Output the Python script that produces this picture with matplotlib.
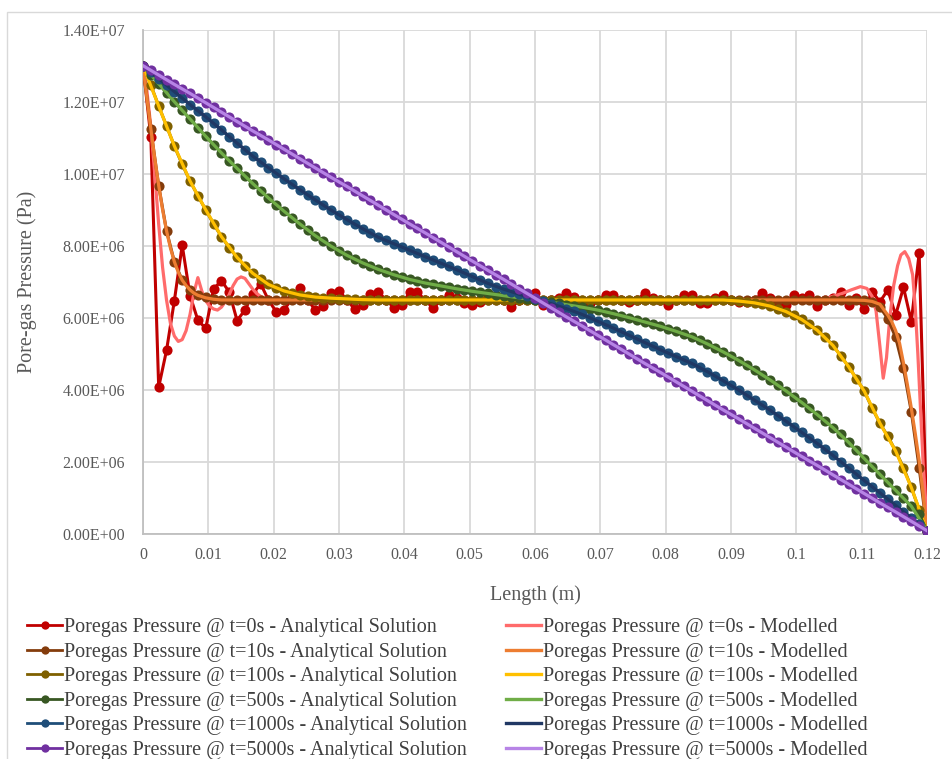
import numpy as np
import matplotlib.pyplot as plt
from matplotlib.patches import Rectangle
from matplotlib.lines import Line2D

plt.rcParams['font.family'] = ['Liberation Serif', 'DejaVu Serif']

# node positions along the sample (m), analytical solution sampled every 1.2 mm
x_nodes = np.linspace(0, 0.12, 101)
# modelled profiles exported every 2.4 mm
x_model = np.linspace(0, 0.12, 51)

# pore-gas pressure, analytical solution (MPa)
p0_exact = [13.0, 11.02, 4.08, 5.10, 6.48, 8.02, 6.62, 5.94, 5.71, 6.80,
            7.04, 6.72, 5.93, 6.22, 6.66, 6.95, 6.50, 6.17, 6.22, 6.55,
            6.82, 6.50, 6.22, 6.33, 6.69, 6.76, 6.50, 6.25, 6.36, 6.66,
            6.73, 6.50, 6.29, 6.36, 6.71, 6.71, 6.50, 6.27, 6.50, 6.64,
            6.55, 6.41, 6.36, 6.45, 6.55, 6.60, 6.50, 6.30, 6.50, 6.55,
            6.69, 6.36, 6.50, 6.55, 6.70, 6.59, 6.45, 6.42, 6.50, 6.64,
            6.64, 6.50, 6.45, 6.50, 6.69, 6.55, 6.50, 6.36, 6.50, 6.64,
            6.64, 6.41, 6.41, 6.55, 6.64, 6.50, 6.45, 6.45, 6.50, 6.69,
            6.55, 6.45, 6.36, 6.64, 6.55, 6.64, 6.33, 6.50, 6.55, 6.73,
            6.36, 6.55, 6.25, 6.73, 6.45, 6.78, 6.08, 6.85, 5.90, 7.80,
            0.10]
p10_exact = [13.0, 11.23, 9.67, 8.42, 7.56, 7.05, 6.78, 6.64, 6.57, 6.53,
             6.51, 6.50, 6.50, 6.50, 6.50, 6.50, 6.50, 6.50, 6.50, 6.50,
             6.50, 6.50, 6.50, 6.50, 6.50, 6.50, 6.50, 6.50, 6.50, 6.50,
             6.50, 6.50, 6.50, 6.50, 6.50, 6.50, 6.50, 6.50, 6.50, 6.50,
             6.50, 6.50, 6.50, 6.50, 6.50, 6.50, 6.50, 6.50, 6.50, 6.50,
             6.50, 6.50, 6.50, 6.50, 6.50, 6.50, 6.50, 6.50, 6.50, 6.50,
             6.50, 6.50, 6.50, 6.50, 6.50, 6.50, 6.50, 6.50, 6.50, 6.50,
             6.50, 6.50, 6.50, 6.50, 6.50, 6.50, 6.50, 6.50, 6.50, 6.50,
             6.50, 6.50, 6.50, 6.50, 6.50, 6.50, 6.50, 6.50, 6.50, 6.50,
             6.50, 6.50, 6.49, 6.45, 6.30, 5.98, 5.46, 4.60, 3.40, 1.85,
             0.10]
p100_exact = [13.0, 12.46, 11.88, 11.33, 10.77, 10.26, 9.80, 9.39, 9.00, 8.61,
              8.26, 7.95, 7.68, 7.44, 7.24, 7.07, 6.93, 6.83, 6.75, 6.69,
              6.64, 6.61, 6.58, 6.56, 6.55, 6.54, 6.53, 6.52, 6.51, 6.51,
              6.50, 6.50, 6.50, 6.50, 6.50, 6.50, 6.50, 6.50, 6.50, 6.50,
              6.50, 6.50, 6.50, 6.50, 6.50, 6.50, 6.50, 6.50, 6.50, 6.50,
              6.50, 6.50, 6.50, 6.50, 6.50, 6.50, 6.50, 6.50, 6.50, 6.50,
              6.50, 6.50, 6.50, 6.50, 6.50, 6.50, 6.50, 6.50, 6.50, 6.50,
              6.50, 6.50, 6.50, 6.50, 6.50, 6.49, 6.47, 6.45, 6.42, 6.38,
              6.33, 6.26, 6.18, 6.08, 5.96, 5.83, 5.66, 5.48, 5.24, 4.95,
              4.65, 4.32, 3.97, 3.50, 3.08, 2.72, 2.31, 1.85, 1.30, 0.68,
              0.10]
p500_exact = [13.00, 12.75, 12.50, 12.25, 12.00, 11.76, 11.52, 11.28, 11.04, 10.81,
              10.58, 10.36, 10.15, 9.94, 9.73, 9.53, 9.33, 9.14, 8.96, 8.78,
              8.61, 8.44, 8.28, 8.13, 7.99, 7.86, 7.74, 7.63, 7.53, 7.43,
              7.35, 7.27, 7.20, 7.13, 7.07, 7.02, 6.97, 6.93, 6.89, 6.85,
              6.81, 6.77, 6.74, 6.71, 6.68, 6.65, 6.62, 6.59, 6.56, 6.53,
              6.50, 6.47, 6.44, 6.41, 6.37, 6.34, 6.30, 6.26, 6.22, 6.17,
              6.12, 6.06, 6.01, 5.95, 5.89, 5.83, 5.77, 5.70, 5.63, 5.56,
              5.48, 5.38, 5.28, 5.17, 5.06, 4.94, 4.82, 4.69, 4.56, 4.42,
              4.28, 4.13, 3.98, 3.82, 3.66, 3.49, 3.32, 3.14, 2.96, 2.77,
              2.55, 2.33, 2.10, 1.88, 1.66, 1.44, 1.22, 1.00, 0.78, 0.55,
              0.10]
p1000_exact = [13.00, 12.82, 12.64, 12.46, 12.28, 12.10, 11.92, 11.75, 11.58, 11.40,
               11.22, 11.03, 10.85, 10.67, 10.49, 10.33, 10.17, 10.01, 9.86, 9.71,
               9.56, 9.41, 9.27, 9.13, 8.99, 8.86, 8.73, 8.60, 8.48, 8.36,
               8.24, 8.15, 8.06, 7.97, 7.88, 7.79, 7.70, 7.61, 7.52, 7.43,
               7.34, 7.24, 7.15, 7.06, 6.96, 6.87, 6.80, 6.73, 6.66, 6.60,
               6.52, 6.46, 6.40, 6.33, 6.26, 6.19, 6.10, 6.00, 5.91, 5.82,
               5.72, 5.62, 5.52, 5.42, 5.32, 5.22, 5.12, 5.02, 4.93, 4.84,
               4.74, 4.63, 4.51, 4.39, 4.26, 4.13, 4.00, 3.86, 3.72, 3.58,
               3.44, 3.29, 3.14, 2.99, 2.83, 2.67, 2.52, 2.36, 2.19, 2.01,
               1.84, 1.66, 1.49, 1.32, 1.15, 0.98, 0.80, 0.63, 0.45, 0.28,
               0.10]
p5000_exact = [13.00, 12.87, 12.74, 12.61, 12.48, 12.36, 12.23, 12.10, 11.97, 11.84,
               11.71, 11.58, 11.45, 11.32, 11.19, 11.07, 10.94, 10.81, 10.68, 10.55,
               10.42, 10.29, 10.16, 10.03, 9.90, 9.78, 9.65, 9.52, 9.39, 9.26,
               9.13, 9.00, 8.87, 8.74, 8.61, 8.49, 8.36, 8.23, 8.10, 7.97,
               7.84, 7.71, 7.58, 7.45, 7.32, 7.20, 7.07, 6.94, 6.81, 6.68,
               6.55, 6.42, 6.29, 6.16, 6.03, 5.91, 5.78, 5.65, 5.52, 5.39,
               5.26, 5.13, 5.00, 4.87, 4.74, 4.62, 4.49, 4.36, 4.23, 4.10,
               3.97, 3.84, 3.71, 3.58, 3.45, 3.33, 3.20, 3.07, 2.94, 2.81,
               2.68, 2.55, 2.42, 2.29, 2.16, 2.04, 1.91, 1.78, 1.65, 1.52,
               1.39, 1.26, 1.13, 1.00, 0.87, 0.75, 0.62, 0.49, 0.36, 0.23,
               0.10]

# modelled profiles (MPa)
x0_model = [0, 0.0006, 0.0012, 0.0018, 0.0024, 0.003, 0.0036, 0.0042, 0.0048, 0.0054,
            0.006, 0.0066, 0.0072, 0.0078, 0.0084, 0.009, 0.0096, 0.0102, 0.0108, 0.0114,
            0.012, 0.0126, 0.0132, 0.0138, 0.0144, 0.015, 0.0156, 0.0162, 0.0168, 0.0174,
            0.018, 0.0186, 0.0192, 0.0204, 0.0216, 0.04, 0.06, 0.08, 0.1, 0.104,
            0.1056, 0.107, 0.1084, 0.1098, 0.1108, 0.1116, 0.1122, 0.1128, 0.1133, 0.1138,
            0.1143, 0.1149, 0.1155, 0.116, 0.1166, 0.1172, 0.1178, 0.1182, 0.1186, 0.119,
            0.1194, 0.1198, 0.12]
p0_model = [13.0, 12.3, 11.3, 10.0, 8.6, 7.4, 6.5, 5.85, 5.5, 5.35,
            5.4, 5.65, 6.1, 6.7, 7.12, 6.75, 6.48, 6.33, 6.25, 6.22,
            6.3, 6.45, 6.65, 6.9, 7.08, 7.14, 7.1, 6.95, 6.8, 6.68,
            6.6, 6.55, 6.52, 6.5, 6.5, 6.5, 6.5, 6.5, 6.5, 6.52,
            6.6, 6.68, 6.78, 6.87, 6.82, 6.6, 6.2, 5.2, 4.33, 4.9,
            6.0, 6.9, 7.45, 7.75, 7.84, 7.65, 7.2, 6.3, 5.0, 3.5,
            2.0, 0.9, 0.1]
x10_model = [0, 0.0006, 0.0012, 0.0018, 0.0024, 0.003, 0.0036, 0.0042, 0.0048, 0.0054,
             0.006, 0.0066, 0.0072, 0.0078, 0.0084, 0.0096, 0.0108, 0.012, 0.06, 0.108,
             0.1104, 0.1116, 0.1128, 0.114, 0.1146, 0.1152, 0.1158, 0.1164, 0.117, 0.1176,
             0.1182, 0.1188, 0.1194, 0.12]
p10_model = [13.0, 12.1, 11.25, 10.42, 9.68, 9.0, 8.42, 7.94, 7.56, 7.27,
             7.05, 6.9, 6.78, 6.69, 6.63, 6.56, 6.52, 6.5, 6.5, 6.5,
             6.49, 6.46, 6.38, 6.08, 5.9, 5.65, 5.3, 4.75, 4.15, 3.5,
             2.8, 2.05, 1.15, 0.1]
p100_model = [13.0, 11.88, 10.77, 9.80, 9.00, 8.26, 7.68, 7.24, 6.93, 6.75,
              6.64, 6.58, 6.55, 6.53, 6.51, 6.50, 6.50, 6.50, 6.50, 6.50,
              6.50, 6.50, 6.50, 6.50, 6.50, 6.50, 6.50, 6.50, 6.50, 6.50,
              6.50, 6.50, 6.50, 6.50, 6.50, 6.50, 6.50, 6.50, 6.47, 6.42,
              6.33, 6.18, 5.96, 5.66, 5.24, 4.65, 3.97, 3.08, 2.31, 1.30,
              0.10]
p500_model = [13.00, 12.50, 12.00, 11.52, 11.04, 10.58, 10.15, 9.73, 9.33, 8.96,
              8.61, 8.28, 7.99, 7.74, 7.53, 7.35, 7.20, 7.07, 6.97, 6.89,
              6.81, 6.74, 6.68, 6.62, 6.56, 6.50, 6.44, 6.37, 6.30, 6.22,
              6.12, 6.01, 5.89, 5.77, 5.63, 5.48, 5.28, 5.06, 4.82, 4.56,
              4.28, 3.98, 3.66, 3.32, 2.96, 2.55, 2.10, 1.66, 1.22, 0.78,
              0.10]
p1000_model = [13.00, 12.64, 12.28, 11.92, 11.58, 11.22, 10.85, 10.49, 10.17, 9.86,
               9.56, 9.27, 8.99, 8.73, 8.48, 8.24, 8.06, 7.88, 7.70, 7.52,
               7.34, 7.15, 6.96, 6.80, 6.66, 6.52, 6.40, 6.26, 6.10, 5.91,
               5.72, 5.52, 5.32, 5.12, 4.93, 4.74, 4.51, 4.26, 4.00, 3.72,
               3.44, 3.14, 2.83, 2.52, 2.19, 1.84, 1.49, 1.15, 0.80, 0.45,
               0.10]
p5000_model = [13.00, 12.74, 12.48, 12.23, 11.97, 11.71, 11.45, 11.19, 10.94, 10.68,
               10.42, 10.16, 9.90, 9.65, 9.39, 9.13, 8.87, 8.61, 8.36, 8.10,
               7.84, 7.58, 7.32, 7.07, 6.81, 6.55, 6.29, 6.03, 5.78, 5.52,
               5.26, 5.00, 4.74, 4.49, 4.23, 3.97, 3.71, 3.45, 3.20, 2.94,
               2.68, 2.42, 2.16, 1.91, 1.65, 1.39, 1.13, 0.87, 0.62, 0.36,
               0.10]

times = ['0', '10', '100', '500', '1000', '5000']
exact_colors = ['#C00000', '#843C0C', '#7F6000', '#385723', '#1F4E79', '#7030A0']
model_colors = ['#FF6B6B', '#ED7D31', '#FFC000', '#70AD47', '#203864', '#B784E6']

exact_data = [p0_exact, p10_exact, p100_exact, p500_exact, p1000_exact, p5000_exact]
model_data = [(x0_model, p0_model), (x10_model, p10_model), (x_model, p100_model),
              (x_model, p500_model), (x_model, p1000_model), (x_model, p5000_model)]

fig = plt.figure(figsize=(9.53, 7.59), dpi=100)
W, H = 953, 759
ax = fig.add_axes([143 / W, 1 - 534.3 / H, (927 - 143) / W, (534.3 - 29.6) / H])

# chart frame
fig.patches.append(Rectangle((7 / W, -0.01), 1.0, 1 - 12 / H + 0.01, transform=fig.transFigure,
                             fill=False, edgecolor='#D9D9D9', linewidth=1.0))

exact_handles = []
model_handles = []
for k, t in enumerate(times):
    ln, = ax.plot(x_nodes, np.array(exact_data[k]) * 1e6, color=exact_colors[k],
                  linewidth=2.2, marker='o', markersize=7.3, markeredgewidth=0,
                  solid_joinstyle='round', zorder=3 + 2 * k)
    xm, pm = model_data[k]
    lm, = ax.plot(xm, np.array(pm) * 1e6, color=model_colors[k], linewidth=2.3,
                  solid_joinstyle='round', zorder=4 + 2 * k)
    exact_handles.append(Line2D([], [], color=exact_colors[k], linewidth=2.0,
                                marker='o', markersize=6, markeredgewidth=0))
    model_handles.append(Line2D([], [], color=model_colors[k], linewidth=2.4))

ax.set_xlim(0, 0.12)
ax.set_ylim(0, 1.4e7)
ax.set_xticks(np.arange(0, 0.1201, 0.01))
ax.set_xticklabels(['0', '0.01', '0.02', '0.03', '0.04', '0.05', '0.06', '0.07',
                    '0.08', '0.09', '0.1', '0.11', '0.12'])
ax.set_yticks(np.arange(0, 1.41e7, 2e6))
ax.set_yticklabels(['0.00E+00', '2.00E+06', '4.00E+06', '6.00E+06', '8.00E+06',
                    '1.00E+07', '1.20E+07', '1.40E+07'])
ax.grid(True, color='#D9D9D9', linewidth=1.3, zorder=0)
ax.set_axisbelow(True)
for side in ['top', 'right']:
    ax.spines[side].set_visible(False)
for side in ['left', 'bottom']:
    ax.spines[side].set_color('#BFBFBF')
    ax.spines[side].set_linewidth(1.3)
ax.tick_params(length=0, labelsize=11.5, labelcolor='#595959')
ax.tick_params(axis='y', pad=13)
ax.tick_params(axis='x', pad=9)
ax.set_xlabel('Length (m)', fontsize=14.5, color='#595959', labelpad=16.5)
ax.set_ylabel('Pore-gas Pressure (Pa)', fontsize=14.5, color='#595959', labelpad=18)

labels = (['Poregas Pressure @ t=%ss - Analytical Solution' % t for t in times] +
          ['Poregas Pressure @ t=%ss - Modelled' % t for t in times])
leg = fig.legend(exact_handles + model_handles, labels, ncol=2, loc='upper left',
                 bbox_to_anchor=(19 / W, 1 - 610 / H), frameon=False,
                 fontsize=14.5, handlelength=1.75, handletextpad=0.08,
                 columnspacing=1.95, labelspacing=0.27, borderaxespad=0)
for txt in leg.get_texts():
    txt.set_color('#404040')

fig.savefig('out.png', dpi=100)
